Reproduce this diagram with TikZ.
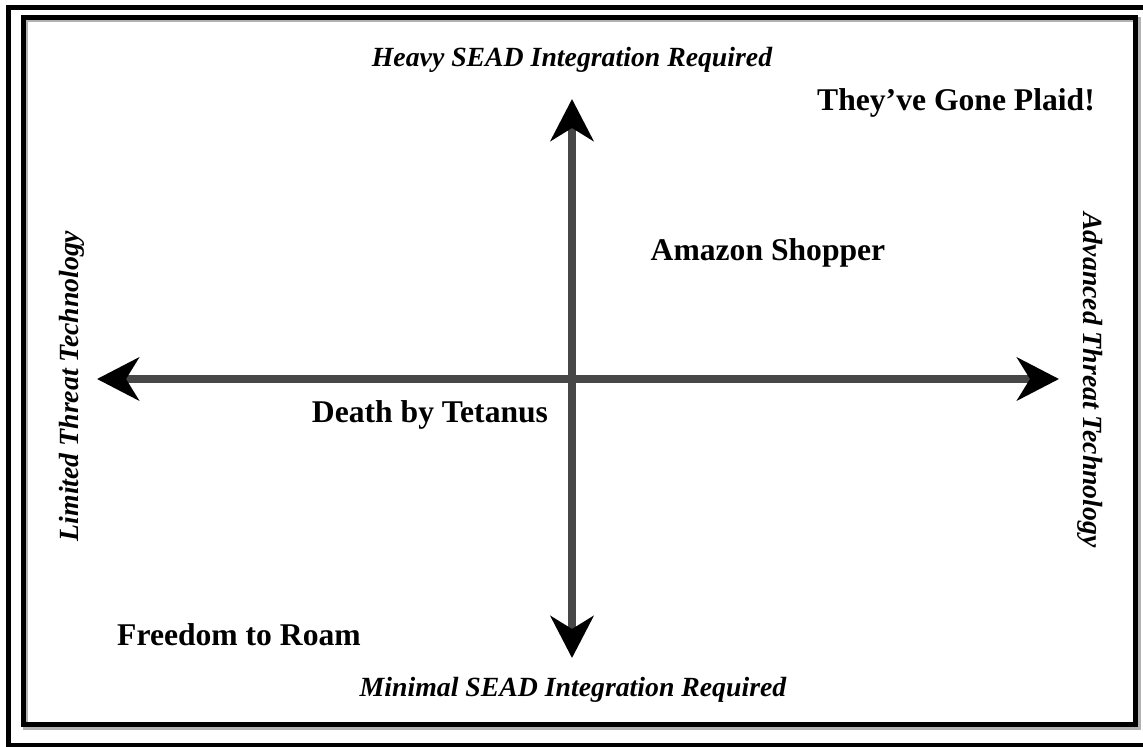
\documentclass[tikz,border=0pt]{standalone}
\usepackage{fontspec}
\setmainfont{Liberation Serif}
\usetikzlibrary{arrows.meta}

\begin{document}
\begin{tikzpicture}[
        x=0.02cm, y=-0.02cm,
        quad/.style={font=\fontsize{18}{20}\selectfont\bfseries, inner sep=0pt},
        axis_label/.style={font=\fontsize{15.8}{18}\selectfont\bfseries\itshape, inner sep=0pt},
        frame/.style={line width=0.1cm, draw=black},
        axis/.style={{Stealth[length=0.84cm, width=0.86cm, inset=0.26cm, color=black]}-{Stealth[length=0.84cm, width=0.86cm, inset=0.26cm, color=black]}, line width=0.15cm, draw=black!72}
    ]

        \useasboundingbox (0,0) rectangle (1143,747);
        \clip (0,0) rectangle (1143,747);

        % Frames
        \draw[frame] (8.5,7.5) rectangle (1160,745.5);
        \draw[line width=0.12cm, draw=black!30] (25.5,19.5) rectangle (1137.5,726.5);
        \draw[frame] (23.5,17.5) rectangle (1135.5,724.5);

        % Axis ends
        \coordinate (west) at (97,379);
        \coordinate (east) at (1059,379);
        \coordinate (north) at (572,99);
        \coordinate (south) at (572,658);

        % Axes
        \draw[axis] (west) -- (east);
        \draw[axis] (south) -- (north);

        % Axis labels
        \node[axis_label] (heavy) at (572,60) {Heavy SEAD Integration Required};
        \node[axis_label] (minimal) at (573,690) {Minimal SEAD Integration Required};
        \node[axis_label, rotate=90] (limited) at (72,386) {Limited Threat Technology};
        \node[axis_label, rotate=-90] (advanced) at (1090,380) {Advanced Threat Technology};

        % Quadrants
        \node[quad] (plaid) at (956,103) {They’ve Gone Plaid!};
        \node[quad] (amazon) at (768,253) {Amazon Shopper};
        \node[quad] (tetanus) at (430,415) {Death by Tetanus};
        \node[quad] (freedom) at (239,635) {Freedom to Roam};

    \end{tikzpicture}
\end{document}
